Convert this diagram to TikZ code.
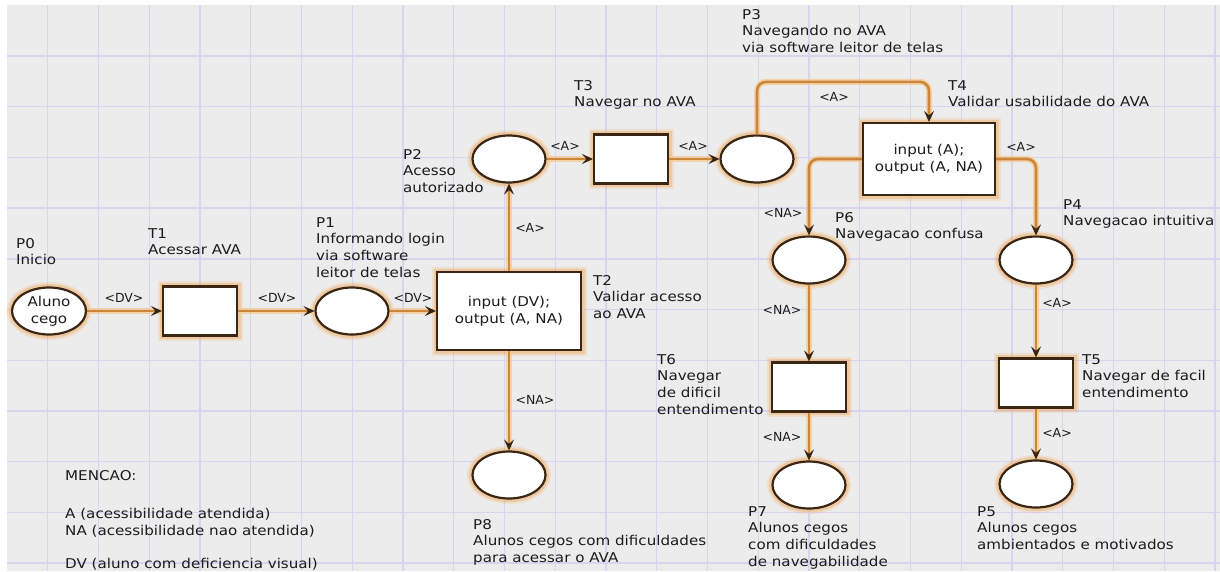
\documentclass[tikz,border=0pt]{standalone}
\usepackage{fontspec}
\setmainfont{DejaVu Sans}[FakeStretch=1.12]
\newfontfamily\arcfont{DejaVu Sans}[FakeStretch=1.0]
\usetikzlibrary{shapes.geometric,arrows.meta}

\definecolor{bg}{RGB}{236,236,236}
\definecolor{gridc}{RGB}{216,212,240}
\definecolor{arcc}{RGB}{204,134,58}
\definecolor{arcglow}{RGB}{246,200,140}
\definecolor{border}{RGB}{58,38,18}
\definecolor{glow}{RGB}{242,160,75}
\definecolor{txt}{RGB}{28,28,28}
\definecolor{tipc}{RGB}{50,36,22}

\tikzset{
  every node/.style={font=\fontsize{13.5}{16.7}\selectfont, text=txt},
  place/.style={ellipse, draw=border, line width=2.2pt, fill=white,
    minimum width=73pt, minimum height=47pt, inner sep=0pt, align=center,
    preaction={draw=glow, line width=11pt, draw opacity=0.18},
    preaction={draw=glow, line width=7pt, draw opacity=0.35}},
  trans/.style={rectangle, draw=border, line width=2.2pt, fill=white,
    minimum width=74pt, minimum height=49pt, inner sep=0pt, align=center,
    preaction={draw=glow, line width=11pt, draw opacity=0.18},
    preaction={draw=glow, line width=7pt, draw opacity=0.35}},
  lbl/.style={anchor=north west, align=left, inner sep=0pt},
  alab/.style={anchor=center, inner sep=0pt, font=\arcfont\fontsize{12.5}{14}\selectfont},
  conn/.style={draw=arcc, line width=2.6pt, rounded corners=9pt,
    -{Stealth[length=11pt,width=10pt,inset=4.5pt,color=tipc]},
    preaction={draw=arcglow, line width=6pt, draw opacity=0.7, -}},
}

\begin{document}
\begin{tikzpicture}[x=1pt,y=-1pt]
\fill[white] (0,0) rectangle (1220,571);
\useasboundingbox (0,0) rectangle (1220,571);
\fill[bg] (7,5) rectangle (1220,571);
\foreach \i in {0,...,23} \draw[gridc, line width=1.4pt] ({47.7+50.75*\i},5) -- ({47.7+50.75*\i},571);
\foreach \j in {0,...,10} \draw[gridc, line width=1.4pt] (7,{56+50.7*\j}) -- (1220,{56+50.7*\j});

% places and transitions
\node[place, minimum width=74pt] (P0) at (49,311) {Aluno\\cego};
\node[trans] (T1) at (200,311) {};
\node[place] (P1) at (352,311) {};
\node[trans, minimum width=144pt, minimum height=78pt] (T2) at (509,311) {input (DV);\\output (A, NA)};
\node[place] (P2) at (509,159) {};
\node[trans] (T3) at (631,159) {};
\node[place] (P3) at (757,159) {};
\node[trans, minimum width=132pt, minimum height=72pt] (T4) at (929,159) {input (A);\\output (A, NA)};
\node[place] (P6) at (809,260) {};
\node[place] (P4) at (1036,260) {};
\node[trans] (T6) at (809,387) {};
\node[trans] (T5) at (1036,383) {};
\node[place] (P7) at (809,485) {};
\node[place] (P5) at (1036,484) {};
\node[place] (P8) at (509,475) {};

% labels
\node[lbl] (lP0) at (16,238) {P0\\Inicio};
\node[lbl] (lT1) at (148,228) {T1\\Acessar AVA};
\node[lbl] (lP1) at (316,217) {P1\\Informando login\\via software\\leitor de telas};
\node[lbl] (lT2) at (593,275) {T2\\Validar acesso\\ao AVA};
\node[lbl] (lP2) at (403,149) {P2\\Acesso\\autorizado};
\node[lbl] (lT3) at (574,80) {T3\\Navegar no AVA};
\node[lbl] (lP3) at (742,9) {P3\\Navegando no AVA\\via software leitor de telas};
\node[lbl] (lT4) at (948,80) {T4\\Validar usabilidade do AVA};
\node[lbl] (lP6) at (835,212) {P6\\Navegacao confusa};
\node[lbl] (lP4) at (1063,199) {P4\\Navegacao intuitiva};
\node[lbl] (lT6) at (657,354) {T6\\Navegar\\de dificil\\entendimento};
\node[lbl] (lT5) at (1082,354) {T5\\Navegar de facil\\entendimento};
\node[lbl] (lP7) at (748,506) {P7\\Alunos cegos\\com dificuldades\\de navegabilidade};
\node[lbl] (lP5) at (977,506) {P5\\Alunos cegos\\ambientados e motivados};
\node[lbl] (lP8) at (473,519) {P8\\Alunos cegos com dificuldades\\para acessar o AVA};
\node[lbl] (leg1) at (65,470) {MENCAO:};
\node[lbl] (leg2) at (65,508) {A (acessibilidade atendida)\\NA (acessibilidade nao atendida)};
\node[lbl] (leg3) at (65,558) {DV (aluno com deficiencia visual)};

% connectors
\draw[conn] (P0.east) -- (T1.west);
\draw[conn] (T1.east) -- (P1.west);
\draw[conn] (P1.east) -- (T2.west);
\draw[conn] (T2.north) -- (P2.south);
\draw[conn] (P2.east) -- (T3.west);
\draw[conn] (T3.east) -- (P3.west);
\draw[conn] (P3.north) |- ([yshift=40pt]T4.north) -- (T4.north);
\draw[conn] (T4.west) -| (P6.north);
\draw[conn] (T4.east) -| (P4.north);
\draw[conn] (P6.south) -- (T6.north);
\draw[conn] (T6.south) -- (P7.north);
\draw[conn] (P4.south) -- (T5.north);
\draw[conn] (T5.south) -- (P5.north);
\draw[conn] (T2.south) -- (P8.north);

% arc labels
\node[alab] (a1) at (124,298) {<DV>};
\node[alab] (a2) at (277,298) {<DV>};
\node[alab] (a3) at (413,298) {<DV>};
\node[alab] (a4) at (565,146) {<A>};
\node[alab] (a5) at (693,146) {<A>};
\node[alab] (a6) at (530,228) {<A>};
\node[alab] (a7) at (834,97) {<A>};
\node[alab] (a8) at (1021,147) {<A>};
\node[alab] (a9) at (783,213) {<NA>};
\node[alab] (a10) at (535,400) {<NA>};
\node[alab] (a11) at (782,310) {<NA>};
\node[alab] (a12) at (782,437) {<NA>};
\node[alab] (a13) at (1057,303) {<A>};
\node[alab] (a14) at (1057,433) {<A>};
\end{tikzpicture}
\end{document}
